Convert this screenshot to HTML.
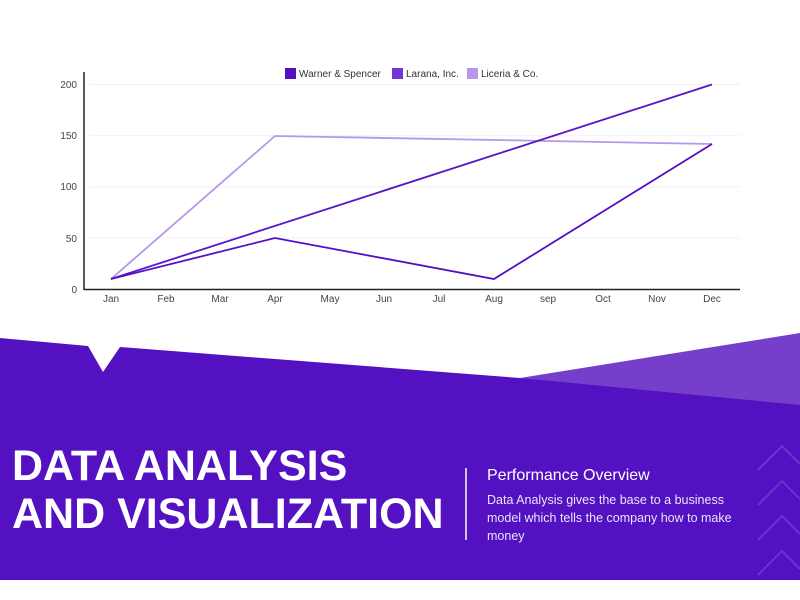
<!DOCTYPE html>
<html><head><meta charset="utf-8"><style>
body{margin:0;width:800px;height:600px;overflow:hidden;background:#fff;font-family:"Liberation Sans",sans-serif;position:relative}
svg{position:absolute;left:0;top:0}
.t{position:absolute;color:#fff}
</style></head><body>
<svg width="800" height="600" viewBox="0 0 800 600">
<g stroke="#f3eff8" stroke-width="1">
<line x1="90" y1="84.5" x2="740" y2="84.5"/><line x1="90" y1="135.8" x2="740" y2="135.8"/>
<line x1="90" y1="187" x2="740" y2="187"/><line x1="90" y1="238" x2="740" y2="238"/>
</g>
<line x1="84" y1="72" x2="84" y2="290" stroke="#222" stroke-width="1.5"/>
<line x1="84" y1="289.5" x2="740" y2="289.5" stroke="#222" stroke-width="1.5"/>
<g font-size="10" fill="#444" text-anchor="end">
<text x="77" y="88">200</text><text x="77" y="139">150</text><text x="77" y="190">100</text><text x="77" y="242">50</text><text x="77" y="293">0</text>
</g>
<g font-size="10" fill="#444" text-anchor="middle">
<text x="111" y="302">Jan</text><text x="166" y="302">Feb</text><text x="220" y="302">Mar</text><text x="275" y="302">Apr</text><text x="330" y="302">May</text><text x="384" y="302">Jun</text><text x="439" y="302">Jul</text><text x="494" y="302">Aug</text><text x="548" y="302">sep</text><text x="603" y="302">Oct</text><text x="657" y="302">Nov</text><text x="712" y="302">Dec</text>
</g>
<polyline points="111,279 275,136 712,144" fill="none" stroke="#b697ea" stroke-width="1.8"/>
<polyline points="111,279 712,84.5" fill="none" stroke="#5a14c9" stroke-width="1.8"/>
<polyline points="111,279 275,238 494,279 712,144" fill="none" stroke="#5510c4" stroke-width="1.8"/>
<g font-size="10" fill="#333">
<rect x="285" y="68" width="11" height="11" fill="#5510c4"/><text x="299" y="77">Warner &amp; Spencer</text>
<rect x="392" y="68" width="11" height="11" fill="#7437d6"/><text x="406" y="77">Larana, Inc.</text>
<rect x="467" y="68" width="11" height="11" fill="#b697ea"/><text x="481" y="77">Liceria &amp; Co.</text>
</g>
<polygon points="0,338 88,346 103,372 120,347 520,378 800,400 800,580 0,580" fill="#5311c1"/>
<polygon points="520,378 800,333 800,405" fill="#763fcb"/>
<line x1="466" y1="468" x2="466" y2="540" stroke="#fff" stroke-width="1.5"/>
<g fill="none" stroke="#6c34cf" stroke-width="2">
<polyline points="758,470 782,446 800,464"/><polyline points="758,505 782,481 800,499"/><polyline points="758,540 782,516 800,534"/><polyline points="758,575 782,551 800,569"/>
</g>
</svg>
<div class="t" style="left:12px;top:442px;font-size:43px;font-weight:bold;line-height:48px">DATA ANALYSIS<br>AND VISUALIZATION</div>
<div class="t" style="left:487px;top:467px;font-size:16px">Performance Overview</div>
<div class="t" style="left:487px;top:491px;font-size:12.5px;line-height:18px;width:260px;color:#ece4fb">Data Analysis gives the base to a business model which tells the company how to make money</div>
</body></html>
